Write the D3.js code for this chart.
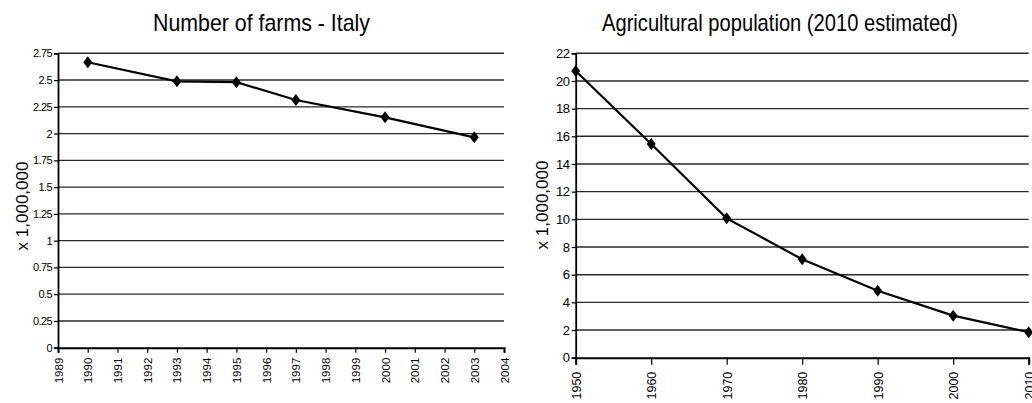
<!DOCTYPE html>
<html>
<head>
<meta charset="utf-8">
<script src="https://cdn.jsdelivr.net/npm/d3@7"></script>
<style>
  html, body { margin: 0; padding: 0; background: #fff; }
  svg { display: block; font-family: "Liberation Sans", Arial, sans-serif; }
</style>
</head>
<body>
<svg id="chart" width="1032" height="403"></svg>
<script>
// Number of farms in Italy (millions)
const farmYears  = [1990, 1993, 1995, 1997, 2000, 2003];
const farmValues = [2.666, 2.488, 2.48, 2.314, 2.152, 1.965];
const farmYTicks = [0, 0.25, 0.5, 0.75, 1, 1.25, 1.5, 1.75, 2, 2.25, 2.5, 2.75];
const farmXTicks = d3.range(1989, 2005);

// Agricultural population (millions), 2010 estimated
const popYears  = [1950, 1960, 1970, 1980, 1990, 2000, 2010];
const popValues = [20.72, 15.44, 10.07, 7.11, 4.84, 3.04, 1.84];
const popYTicks = [0, 2, 4, 6, 8, 10, 12, 14, 16, 18, 20, 22];
const popXTicks = [1950, 1960, 1970, 1980, 1990, 2000, 2010];

const svg = d3.select("#chart");

function drawPanel(cfg) {
  const g = svg.append("g");
  const x = d3.scaleLinear().domain(cfg.xDomain).range([cfg.left, cfg.right]);
  const y = d3.scaleLinear().domain(cfg.yDomain).range([cfg.bottom, cfg.top]);

  // horizontal gridlines
  g.append("g").selectAll("line")
    .data(cfg.yTicks.filter(v => v !== cfg.yDomain[0]))
    .join("line")
    .attr("x1", cfg.left).attr("x2", cfg.right)
    .attr("y1", d => y(d)).attr("y2", d => y(d))
    .attr("stroke", "#2a2a2a").attr("stroke-width", 1.4);

  // y axis
  const yAxis = g.append("g")
    .attr("transform", `translate(${cfg.left},0)`)
    .call(d3.axisLeft(y).tickValues(cfg.yTicks).tickSize(4).tickPadding(2)
      .tickFormat(d => String(d)));
  yAxis.select(".domain").attr("stroke", "#000").attr("stroke-width", 1.8);
  yAxis.selectAll(".tick line").attr("stroke", "#000").attr("stroke-width", 1.2);
  yAxis.selectAll(".tick text")
    .attr("font-size", cfg.yFont).attr("fill", "#000")
    .attr("font-family", "Liberation Sans, Arial, sans-serif")
    .attr("letter-spacing", cfg.yLetter);

  // x axis with vertical year labels
  const xAxis = g.append("g")
    .attr("transform", `translate(0,${cfg.bottom})`)
    .call(d3.axisBottom(x).tickValues(cfg.xTicks).tickSize(cfg.xTickSize)
      .tickFormat(d3.format("d")));
  xAxis.select(".domain").attr("stroke", "#000").attr("stroke-width", 2);
  xAxis.selectAll(".tick line").attr("stroke", "#000").attr("stroke-width", 1.2);
  xAxis.selectAll(".tick text")
    .attr("font-size", cfg.xFont).attr("fill", "#000")
    .attr("font-family", "Liberation Sans, Arial, sans-serif")
    .attr("text-anchor", "end")
    .attr("dy", "0.35em")
    .attr("transform", `translate(0,${cfg.xLabelGap}) rotate(-90)`)
    .attr("x", 0).attr("y", 0);

  // series line
  const pts = cfg.xs.map((d, i) => [d, cfg.ys[i]]);
  g.append("path")
    .datum(pts)
    .attr("fill", "none").attr("stroke", "#000").attr("stroke-width", 2.2)
    .attr("d", d3.line().x(d => x(d[0])).y(d => y(d[1])));

  // diamond markers
  g.append("g").selectAll("path")
    .data(pts)
    .join("path")
    .attr("transform", d => `translate(${x(d[0])},${y(d[1])})`)
    .attr("d", "M0,-6L4.5,0L0,6L-4.5,0Z")
    .attr("fill", "#000");

  // title (narrow face)
  svg.append("text")
    .attr("x", cfg.titleX).attr("y", 31)
    .attr("text-anchor", "middle")
    .attr("font-size", 24).attr("fill", "#000")
    .attr("textLength", cfg.titleWidth)
    .attr("lengthAdjust", "spacingAndGlyphs")
    .text(cfg.title);

  // y axis label
  svg.append("text")
    .attr("transform", `translate(${cfg.yLabelX},${cfg.yLabelY}) rotate(-90)`)
    .attr("text-anchor", "middle")
    .attr("font-size", 17).attr("fill", "#000")
    .text("x 1,000,000");
}

drawPanel({
  title: "Number of farms - Italy", titleX: 261.5, titleWidth: 217,
  left: 58, right: 504, top: 53.3, bottom: 347.7,
  xDomain: [1989, 2004], yDomain: [0, 2.75],
  xTicks: farmXTicks, yTicks: farmYTicks,
  xs: farmYears, ys: farmValues,
  yFont: 11, yLetter: -0.6,
  xFont: 11.5, xTickSize: 5, xLabelGap: 10,
  yLabelX: 28, yLabelY: 206
});

drawPanel({
  title: "Agricultural population (2010 estimated)", titleX: 780, titleWidth: 356,
  left: 575.7, right: 1028.7, top: 53.3, bottom: 357.7,
  xDomain: [1950, 2010], yDomain: [0, 22],
  xTicks: popXTicks, yTicks: popYTicks,
  xs: popYears, ys: popValues,
  yFont: 13, yLetter: -0.4,
  xFont: 12.5, xTickSize: 7, xLabelGap: 14,
  yLabelX: 548, yLabelY: 205
});
</script>
</body>
</html>
